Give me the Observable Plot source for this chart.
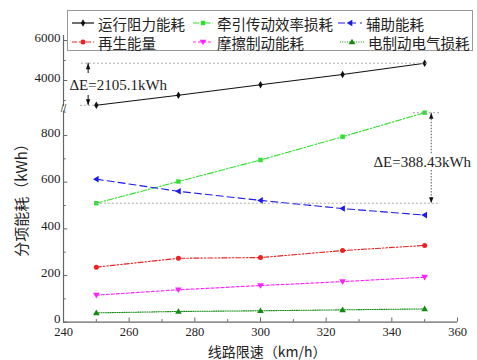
<!DOCTYPE html>
<html><head><meta charset="utf-8">
<script src="https://cdn.jsdelivr.net/npm/d3@7"></script>
<script src="https://cdn.jsdelivr.net/npm/@observablehq/plot@0.6"></script>
<style>
body{margin:0;background:#fff}
#wrap{position:relative;width:477px;height:360px;overflow:hidden}
.lg{position:absolute;left:67px;top:10px;width:406px;height:41px;border:1px solid #999;box-sizing:border-box;background:#fff;font-family:"Noto Sans CJK SC";font-size:14.5px;color:#222}
.it{position:absolute;height:20px;display:flex;align-items:center;white-space:nowrap}
.it svg{display:block;margin-right:4px}
</style></head><body><div id="wrap"></div>
<script>
// data
const speeds = [250, 275, 300, 325, 350];
const resistance = [2760, 3265, 3785, 4300, 4865];   // 运行阻力能耗
const traction   = [510, 603, 695, 795, 898];        // 牵引传动效率损耗
const auxiliary  = [613, 561, 522, 487, 459];        // 辅助能耗
const regen      = [236, 274, 277, 307, 329];        // 再生能量
const friction   = [116, 139, 157, 174, 193];        // 摩擦制动能耗
const electric   = [40, 46, 49, 53, 57];             // 电制动电气损耗
const seriesNames = ["运行阻力能耗","牵引传动效率损耗","辅助能耗","再生能量","摩擦制动能耗","电制动电气损耗"];
const xTicks = [240, 260, 280, 300, 320, 340, 360];
const xMinor = [250, 270, 290, 310, 330, 350];
const yTicks = [0, 200, 400, 600, 800, 4000, 6000];
const yMinor = [100, 300, 500, 700, 900, 3000, 5000];
const xLabel = "线路限速（km/h）";
const yLabel = "分项能耗（kWh）";
const dE1 = "ΔE=2105.1kWh";
const dE2 = "ΔE=388.43kWh";

// custom symbols
const triDown = {draw(c, s){const r=Math.sqrt(s)*0.62; c.moveTo(0,r); c.lineTo(-r,-r*0.7); c.lineTo(r,-r*0.7); c.closePath();}};
const triLeft = {draw(c, s){const r=Math.sqrt(s)*0.62; c.moveTo(-r,0); c.lineTo(r*0.7,-r); c.lineTo(r*0.7,r); c.closePath();}};
const triUp = {draw(c, s){const r=Math.sqrt(s)*0.62; c.moveTo(0,-r); c.lineTo(-r,r*0.7); c.lineTo(r,r*0.7); c.closePath();}};
const headUp = {draw(c){c.moveTo(0,0); c.lineTo(-2.2,6); c.lineTo(2.2,6); c.closePath();}};
const headDown = {draw(c){c.moveTo(0,0); c.lineTo(-2.2,-6); c.lineTo(2.2,-6); c.closePath();}};

const styles = [
  {vals: resistance, color: "#111", dash: null, sym: "diamond", r: 2.3, w: 1.1},
  {vals: traction, color: "#2fe02f", dash: "6,2,1.5,2", sym: "square", r: 2.5, w: 1.1},
  {vals: auxiliary, color: "#1a1aee", dash: "7,4", sym: triLeft, r: 3, w: 1.1},
  {vals: regen, color: "#ee2020", dash: "5,2,1.5,2,1.5,2", sym: "circle", r: 2.5, w: 1.1},
  {vals: friction, color: "#ff22ff", dash: "3,2", sym: triDown, r: 3, w: 1.1},
  {vals: electric, color: "#108a10", dash: "1,1.3", sym: triUp, r: 3, w: 1.1}
];

const marks = [];
for (const s of styles) {
  const d = speeds.map((x, i) => ({x, y: s.vals[i]}));
  marks.push(Plot.line(d, {x: "x", y: "y", stroke: s.color, strokeWidth: s.w, strokeDasharray: s.dash}));
  marks.push(Plot.dot(d, {x: "x", y: "y", fill: s.color, stroke: "none", symbol: s.sym, r: s.r}));
}

const grey = "#aaa";
// annotations
marks.push(
  Plot.ruleY([resistance[4]], {x1: 245.5, x2: 351.5, stroke: grey, strokeDasharray: "2,2"}),
  Plot.ruleY([resistance[0]], {x1: 245.2, x2: 250, stroke: grey, strokeDasharray: "2,2"}),
  Plot.ruleX([247.5], {y1: 4350, y2: resistance[4], stroke: "#111"}),
  Plot.ruleX([247.5], {y1: 3250, y2: resistance[0], stroke: "#111"}),
  Plot.dot([{x: 247.5, y: resistance[4]}], {x: "x", y: "y", symbol: headUp, fill: "#111", stroke: "none"}),
  Plot.dot([{x: 247.5, y: resistance[0]}], {x: "x", y: "y", symbol: headDown, fill: "#111", stroke: "none"}),
  Plot.text([dE1], {x: 241.8, y: 3785, text: d => d, textAnchor: "start", fontSize: 15, fontFamily: "Liberation Serif", fill: "#222"}),
  Plot.ruleY([traction[0]], {x1: 250, x2: 354.2, stroke: grey, strokeDasharray: "2,2"}),
  Plot.ruleY([traction[4]], {x1: 346.6, x2: 354.8, stroke: grey, strokeDasharray: "2,2"}),
  Plot.ruleX([352], {y1: 722, y2: traction[4], stroke: "#555", strokeDasharray: "1.5,1.5"}),
  Plot.ruleX([352], {y1: 650, y2: traction[0], stroke: "#555", strokeDasharray: "1.5,1.5"}),
  Plot.dot([{x: 352, y: traction[4]}], {x: "x", y: "y", symbol: headUp, fill: "#111", stroke: "none"}),
  Plot.dot([{x: 352, y: traction[0]}], {x: "x", y: "y", symbol: headDown, fill: "#111", stroke: "none"}),
  Plot.text([dE2], {x: 334.4, y: 686, text: d => d, textAnchor: "start", fontSize: 15, fontFamily: "Liberation Serif", fill: "#222"})
);

// axes
const axc = "#666";
marks.push(
  Plot.ruleY([0], {stroke: axc, strokeWidth: 1.2}),
  Plot.ruleX([240], {y1: 0, y2: 905, stroke: axc, strokeWidth: 1.2}),
  Plot.ruleX([240], {y1: 2690, y2: 6250, stroke: axc, strokeWidth: 1.2}),
  Plot.text(["//"], {x: 240, y: 915, text: d => d, fontSize: 10, fontFamily: "Liberation Sans", fill: "#444"}),
  Plot.ruleY(yTicks, {x1: 240, x2: 241.3, stroke: axc}),
  Plot.ruleY(yMinor, {x1: 240, x2: 240.8, stroke: axc}),
  Plot.ruleX(xTicks, {y1: 0, y2: 18, stroke: axc}),
  Plot.ruleX(xMinor, {y1: 0, y2: 11, stroke: axc}),
  Plot.axisY({ticks: yTicks, tickSize: 0, tickPadding: 3, dy: -3, label: null, fontSize: 13, fontFamily: "Liberation Serif", color: "#222", tickFormat: d => String(d)}),
  Plot.axisX({ticks: xTicks, tickSize: 0, tickPadding: 5, label: null, fontSize: 12.5, fontFamily: "Liberation Serif", color: "#222"}),
  Plot.text([xLabel], {x: 302, y: 0, dy: 30.5, text: d => d, fontSize: 14, fontFamily: "Noto Sans CJK SC", fill: "#222"}),
  Plot.text([yLabel], {x: 240, y: 539, dx: -41, rotate: -90, text: d => d, fontSize: 15, fontFamily: "Noto Sans CJK SC", fill: "#222"})
);

const chart = Plot.plot({
  width: 477, height: 360,
  marginLeft: 63, marginRight: 20, marginTop: 20, marginBottom: 38,
  style: {background: "#fff", overflow: "visible"},
  x: {domain: [240, 360]},
  y: {type: "linear", domain: [0, 915, 2650, 7000], range: [321.7, 108.2, 107, 20]},
  marks
});
const wrap = document.getElementById("wrap");
wrap.appendChild(chart);

// legend
const lg = document.createElement("div");
lg.className = "lg";
const items = [
  {i: 0, left: 4, sw: 22, top: 2},
  {i: 1, left: 125, sw: 20, top: 2},
  {i: 2, left: 270, sw: 24, top: 2},
  {i: 3, left: 4, sw: 22, top: 21},
  {i: 4, left: 125, sw: 20, top: 21},
  {i: 5, left: 272, sw: 24, top: 21}
];
for (const it of items) {
  const s = styles[it.i];
  const div = document.createElement("div");
  div.className = "it";
  div.style.left = it.left + "px";
  div.style.top = it.top + "px";
  const svg = d3.create("svg").attr("width", it.sw).attr("height", 10);
  svg.append("line").attr("x1", 0).attr("x2", it.sw).attr("y1", 5).attr("y2", 5)
    .attr("stroke", s.color).attr("stroke-width", 1.2).attr("stroke-dasharray", s.dash);
  const symType = typeof s.sym === "string" ? ({diamond: d3.symbolDiamond, square: d3.symbolSquare, circle: d3.symbolCircle})[s.sym] : s.sym;
  svg.append("path").attr("transform", `translate(${it.sw/2},5)`)
    .attr("d", d3.symbol(symType, Math.PI * s.r * s.r)()).attr("fill", s.color);
  div.appendChild(svg.node());
  const sp = document.createElement("span");
  sp.textContent = seriesNames[it.i];
  div.appendChild(sp);
  lg.appendChild(div);
}
wrap.appendChild(lg);
</script>
</body></html>
